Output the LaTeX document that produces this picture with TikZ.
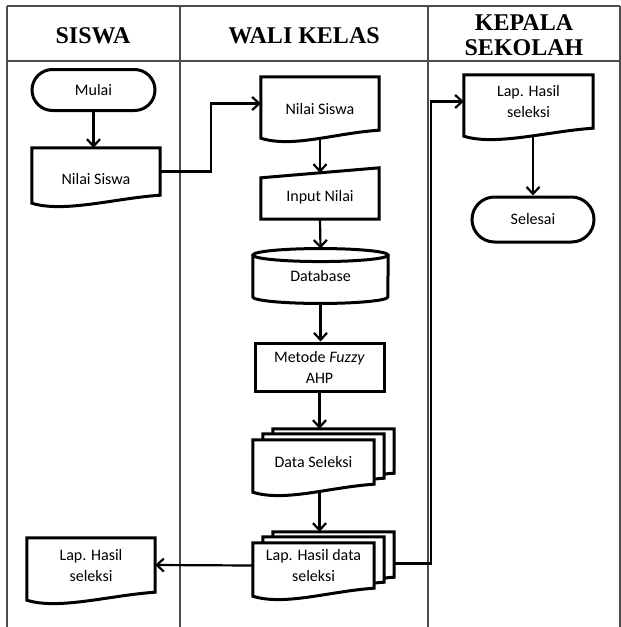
\documentclass[tikz,border=0pt]{standalone}
\usepackage{fontspec}
\setmainfont{Carlito}
\newfontfamily\headfont{Liberation Serif}
\usetikzlibrary{shapes,arrows,arrows.meta,calc,backgrounds}

\newcommand{\docframe}[2]{%
  \draw[shapeline, fill=white] ($(#1.south west)+#2+(0,8)$) -- ($(#1.north west)+#2$) -- ($(#1.north east)+#2$) -- ($(#1.south east)+#2$)
    .. controls +(-45,3) and +(32,10) .. ($(#1.south west)+#2+(0,8)$) -- cycle;}

\begin{document}
\begin{tikzpicture}[x=1pt,y=-1pt]
	\tikzstyle{shapeline}=[draw=black, line width=3pt]
	\tikzstyle{grid}=[draw=black!70, line width=1.1pt]
	\tikzstyle{flow}=[draw=black, line width=2.2pt, -{Straight Barb[length=7pt,width=13pt]}]
	\tikzstyle{head}=[font=\headfont\bfseries\fontsize{24}{25}\selectfont, align=center]
	\tikzstyle{txt}=[font=\fontsize{16}{21}\selectfont, align=center, inner sep=0pt]
	\tikzstyle{term}=[txt, rounded rectangle, shapeline]
	\tikzstyle{procbox}=[txt, rectangle, shapeline, fill=white]
	\tikzstyle{docnode}=[txt, rectangle]

	\useasboundingbox (0,0) rectangle (621,627);

	\draw[grid] (7,6) -- (620,6);
	\draw[grid] (7,61) -- (620,61);
	\foreach \x in {7,180,428,620} \draw[grid] (\x,6) -- (\x,627);

	\node[head] (hSiswa) at (93,36) {SISWA};
	\node[head] (hWali) at (304,36) {WALI KELAS};
	\node[head] (hKepala) at (524,35) {KEPALA\\SEKOLAH};

	\node[term, minimum width=123, minimum height=41] (mulai) at (93.5,90) {Mulai};
	\node[docnode, minimum width=128, minimum height=47, text height=26pt] (sisNilai) at (96,171.5) {Nilai Siswa};
	\node[docnode, minimum width=118, minimum height=53, text height=22pt] (waliNilai) at (320,103.5) {Nilai Siswa};
	\node[docnode, minimum width=118, minimum height=51, text height=18pt] (waliInput) at (320,193.5) {Input Nilai};
	\node[docnode, minimum width=135, minimum height=41.5] (waliDb) at (320.5,276) {Database};
	\node[procbox, minimum width=129, minimum height=48] (waliFahp) at (319.5,367) {Metode \textit{Fuzzy}\\AHP};
	\node[docnode, minimum width=121, minimum height=44] (waliSeleksi) at (313.5,462) {Data Seleksi};
	\node[docnode, minimum width=121, minimum height=45] (waliLap) at (313.5,565.5) {Lap. Hasil data\\seleksi};
	\node[docnode, minimum width=128, minimum height=54] (sisLap) at (91,565) {Lap. Hasil\\seleksi};
	\node[docnode, minimum width=129, minimum height=53] (kepLap) at (528.5,101.5) {Lap. Hasil\\seleksi};
	\node[term, minimum width=122, minimum height=45] (selesai) at (533,219.5) {Selesai};

	\begin{scope}[on background layer]
		\docframe{sisNilai}{(0,0)}
		\docframe{waliNilai}{(0,0)}
		\draw[shapeline, fill=white] (waliInput.south west) -- ($(waliInput.north west)+(0,10)$) -- (waliInput.north east) -- (waliInput.south east) -- cycle;
		\fill[white] (waliDb.north west) -- (waliDb.south west) arc[start angle=180, end angle=0, x radius=67.5, y radius=6.5] -- (waliDb.north east) -- cycle;
		\draw[shapeline] (waliDb.north west) -- (waliDb.south west) arc[start angle=180, end angle=0, x radius=67.5, y radius=6.5] -- (waliDb.north east);
		\draw[shapeline, fill=white] (waliDb.north) ellipse[x radius=67.5, y radius=6.5];
		\docframe{waliSeleksi}{(20,-11)}
		\docframe{waliSeleksi}{(10,-6)}
		\docframe{waliSeleksi}{(0,0)}
		\docframe{waliLap}{(20,-11)}
		\docframe{waliLap}{(10,-6)}
		\docframe{waliLap}{(0,0)}
		\docframe{sisLap}{(0,0)}
		\docframe{kepLap}{(0,0)}
	\end{scope}

	\draw[flow] (mulai.south) -- (mulai.south |- sisNilai.north);
	\draw[flow] (sisNilai.east) -- ++(51,0) |- (waliNilai.west);
	\draw[flow, shorten <=8pt] (waliNilai.south) -- ($(waliInput.north)+(0,5)$);
	\draw[flow] (waliInput.south) -- ($(waliDb.north)+(0,-6.5)$);
	\draw[flow, shorten <=6.5pt] (waliDb.south) -- (waliDb.south |- waliFahp.north);
	\draw[flow] (waliFahp.south) -- ($(waliFahp.south |- waliSeleksi.north)+(0,-11)$);
	\draw[flow, shorten <=8pt] (waliFahp.south |- waliSeleksi.south) -- ($(waliFahp.south |- waliLap.north)+(0,-11)$);
	\draw[flow] (waliLap.west) -- (sisLap.east);
	\coordinate (lapBack) at ($(waliLap.east)+(20,-2)$);
	\draw[flow] (lapBack) -- ++(37,0) |- (kepLap.west);
	\draw[flow, shorten <=8pt] (selesai.north |- kepLap.south) -- (selesai.north);
\end{tikzpicture}
\end{document}
